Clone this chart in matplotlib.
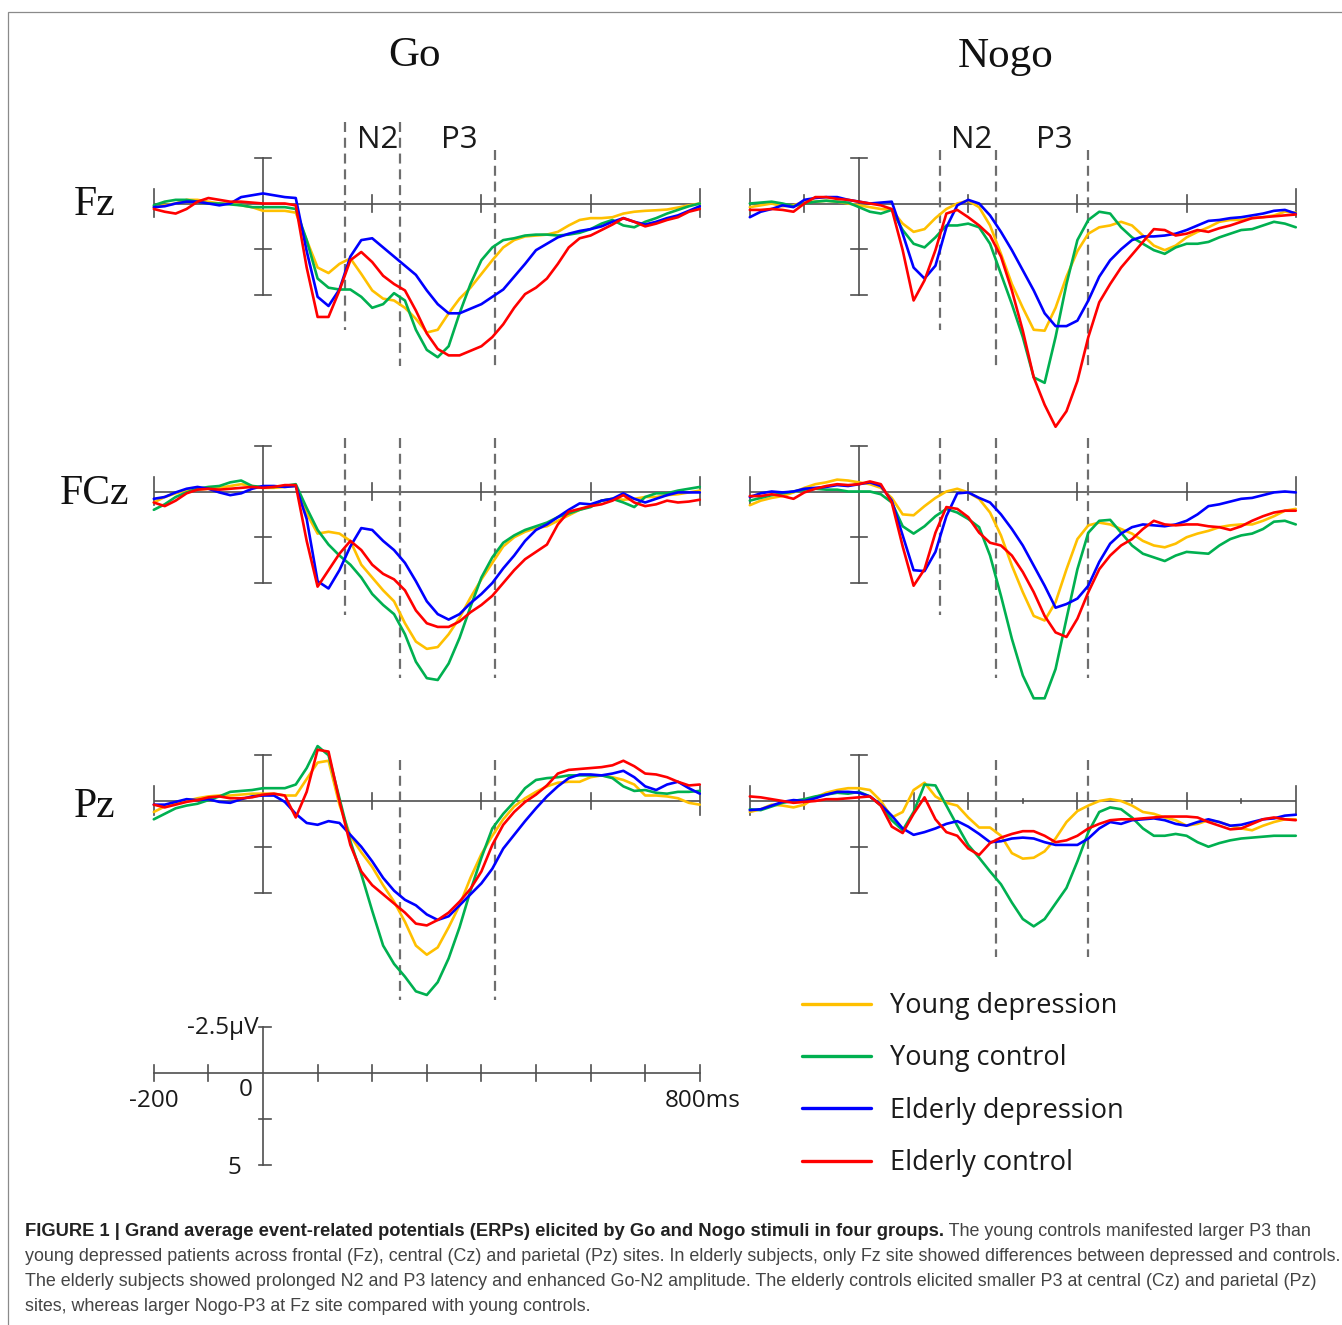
import matplotlib
matplotlib.use("Agg")
import matplotlib.pyplot as plt
from matplotlib.patches import Rectangle

# ---------------- data (µV, negative plotted upward) ----------------
time_ms = [-200, -180, -160, -140, -120, -100, -80, -60, -40, -20, 0,
           20, 40, 60, 80, 100, 120, 140, 160, 180, 200,
           220, 240, 260, 280, 300, 320, 340, 360, 380, 400,
           420, 440, 460, 480, 500, 520, 540, 560, 580, 600,
           620, 640, 660, 680, 700, 720, 740, 760, 780, 800]

groups = ["Young depression", "Young control", "Elderly depression", "Elderly control"]
group_colors = ["#FFC000", "#00B050", "#0000FF", "#FF0000"]

# ---- Go, Fz
go_fz_yd = [0.2, 0.1, 0.0, -0.2, -0.2, -0.1, 0.0, 0.0, 0.1, 0.2, 0.4,
            0.4, 0.4, 0.5, 2.0, 3.5, 3.8, 3.3, 3.0, 3.85, 4.75,
            5.2, 5.3, 5.7, 6.3, 7.05, 6.9, 6.0, 5.2, 4.6, 3.85,
            3.1, 2.4, 2.0, 1.8, 1.75, 1.7, 1.55, 1.2, 0.9, 0.8,
            0.8, 0.75, 0.55, 0.45, 0.4, 0.37, 0.33, 0.22, 0.1, 0.0]
go_fz_yc = [0.1, -0.1, -0.2, -0.2, -0.1, 0.0, 0.0, 0.05, 0.1, 0.2, 0.2,
            0.2, 0.2, 0.3, 2.0, 4.1, 4.6, 4.7, 4.7, 5.1, 5.7,
            5.5, 4.9, 5.3, 6.9, 8.0, 8.4, 7.8, 6.0, 4.4, 3.1,
            2.4, 2.0, 1.9, 1.75, 1.7, 1.7, 1.75, 1.7, 1.6, 1.4,
            1.1, 0.9, 1.2, 1.3, 1.0, 0.8, 0.55, 0.35, 0.15, 0.0]
go_fz_ed = [0.2, 0.15, 0.0, -0.1, -0.1, 0.0, 0.1, 0.0, -0.35, -0.45, -0.55,
            -0.45, -0.35, -0.3, 2.6, 5.1, 5.6, 4.7, 2.9, 2.0, 1.9,
            2.4, 2.9, 3.4, 3.9, 4.75, 5.5, 6.0, 6.0, 5.75, 5.5,
            5.1, 4.7, 4.0, 3.3, 2.55, 2.2, 1.85, 1.65, 1.5, 1.4,
            1.25, 1.0, 0.8, 1.0, 1.15, 1.0, 0.8, 0.65, 0.4, 0.15]
go_fz_ec = [0.3, 0.45, 0.55, 0.3, -0.1, -0.3, -0.2, -0.1, -0.1, -0.05, 0.0,
            0.0, 0.0, 0.1, 3.5, 6.2, 6.2, 4.75, 3.1, 2.65, 3.2,
            3.95, 4.4, 4.75, 5.85, 7.1, 7.95, 8.3, 8.3, 8.05, 7.8,
            7.3, 6.6, 5.7, 4.95, 4.6, 4.1, 3.3, 2.4, 1.9, 1.75,
            1.45, 1.15, 0.8, 1.0, 1.25, 1.1, 0.9, 0.75, 0.45, 0.3]

# ---- Go, FCz
go_fcz_yd = [0.6, 0.3, 0.1, -0.05, -0.1, -0.15, -0.2, -0.3, -0.4, -0.3, -0.2,
             -0.2, -0.25, -0.3, 1.2, 2.3, 2.2, 2.3, 2.7, 4.0, 4.7,
             5.4, 6.0, 7.2, 8.2, 8.6, 8.5, 7.8, 6.9, 5.8, 4.8,
             3.9, 3.0, 2.5, 2.2, 2.0, 1.9, 1.6, 1.3, 1.0, 0.8,
             0.5, 0.4, 0.45, 0.4, 0.3, 0.3, 0.2, 0.15, 0.05, -0.05]
go_fcz_yc = [1.0, 0.7, 0.3, 0.05, -0.15, -0.25, -0.3, -0.5, -0.6, -0.3, -0.25,
             -0.25, -0.3, -0.4, 0.9, 2.1, 2.9, 3.5, 4.0, 4.7, 5.6,
             6.2, 6.7, 7.8, 9.3, 10.2, 10.3, 9.4, 8.0, 6.3, 4.7,
             3.6, 2.8, 2.4, 2.1, 1.9, 1.7, 1.4, 1.2, 1.0, 0.85,
             0.5, 0.4, 0.6, 0.85, 0.3, 0.1, 0.1, -0.05, -0.15, -0.25]
go_fcz_ed = [0.4, 0.3, 0.05, -0.15, -0.25, -0.15, 0.05, 0.2, 0.1, -0.15, -0.3,
             -0.3, -0.25, -0.3, 1.5, 4.9, 5.3, 4.3, 3.0, 2.0, 2.1,
             2.7, 3.2, 3.9, 4.9, 6.0, 6.7, 7.0, 6.7, 6.1, 5.6,
             5.0, 4.2, 3.5, 2.7, 2.1, 1.8, 1.4, 1.0, 0.65, 0.7,
             0.5, 0.4, 0.1, 0.4, 0.6, 0.4, 0.2, 0.05, 0.05, 0.05]
go_fcz_ec = [0.6, 0.8, 0.5, 0.1, -0.1, -0.15, -0.1, -0.15, -0.2, -0.25, -0.2,
             -0.25, -0.35, -0.35, 2.7, 5.2, 4.3, 3.4, 2.7, 3.2, 4.0,
             4.5, 4.8, 5.4, 6.5, 7.2, 7.4, 7.4, 7.1, 6.6, 6.2,
             5.7, 5.0, 4.3, 3.7, 3.3, 2.9, 1.8, 1.1, 0.95, 0.8,
             0.7, 0.5, 0.2, 0.6, 0.8, 0.7, 0.5, 0.6, 0.55, 0.45]

# ---- Go, Pz
go_pz_yd = [0.6, 0.3, 0.1, 0.0, -0.15, -0.25, -0.3, -0.3, -0.35, -0.4, -0.4,
            -0.4, -0.3, -0.3, -1.2, -2.1, -2.2, 0.2, 1.9, 2.8, 3.6,
            4.6, 5.5, 6.6, 7.9, 8.4, 8.0, 6.9, 5.7, 4.2, 2.9,
            1.9, 1.0, 0.3, -0.15, -0.5, -0.8, -1.0, -1.05, -1.05, -1.3,
            -1.4, -1.3, -1.15, -0.9, -0.3, -0.3, -0.25, -0.15, 0.1, 0.2]
go_pz_yc = [1.0, 0.7, 0.4, 0.25, 0.15, -0.05, -0.25, -0.5, -0.55, -0.6, -0.7,
            -0.7, -0.7, -0.9, -1.8, -3.0, -2.5, -0.15, 2.2, 4.0, 6.0,
            7.9, 8.9, 9.6, 10.4, 10.6, 9.9, 8.6, 6.9, 4.9, 3.1,
            1.5, 0.7, 0.05, -0.7, -1.15, -1.25, -1.3, -1.4, -1.4, -1.4,
            -1.4, -1.25, -0.8, -0.55, -0.6, -0.45, -0.4, -0.5, -0.5, -0.55]
go_pz_ed = [0.2, 0.2, 0.05, -0.1, -0.05, -0.1, 0.05, 0.1, -0.1, -0.25, -0.3,
            -0.3, 0.05, 0.7, 1.2, 1.3, 1.1, 1.2, 1.85, 2.5, 3.3,
            4.2, 4.9, 5.4, 5.7, 6.2, 6.5, 6.3, 5.7, 5.1, 4.5,
            3.7, 2.6, 1.85, 1.1, 0.4, -0.25, -0.8, -1.25, -1.45, -1.45,
            -1.4, -1.5, -1.65, -1.3, -0.8, -0.6, -0.9, -1.05, -0.7, -0.4]
go_pz_ec = [0.2, 0.35, 0.2, 0.05, -0.05, -0.2, -0.25, -0.15, -0.15, -0.2, -0.35,
            -0.4, -0.3, 0.9, -0.5, -2.8, -2.7, 0.0, 2.4, 3.85, 4.6,
            5.1, 5.6, 6.1, 6.7, 6.8, 6.5, 6.1, 5.5, 4.8, 3.85,
            2.4, 1.3, 0.6, 0.05, -0.35, -0.85, -1.5, -1.7, -1.75, -1.8,
            -1.85, -1.95, -2.2, -1.9, -1.5, -1.45, -1.3, -1.05, -0.85, -0.9]

# ---- Nogo, Fz
nogo_fz_yd = [0.2, 0.1, 0.0, 0.15, 0.1, -0.1, -0.1, -0.15, -0.1, 0.0, 0.1,
              0.2, 0.3, 0.35, 1.1, 1.55, 1.4, 0.8, 0.3, 0.0, -0.15,
              0.2, 1.2, 2.75, 4.4, 5.7, 6.9, 6.95, 5.7, 4.0, 2.6,
              1.65, 1.3, 1.2, 1.0, 1.2, 1.75, 2.3, 2.55, 2.3, 1.85,
              1.55, 1.3, 1.0, 0.9, 0.9, 0.8, 0.75, 0.65, 0.45, 0.5]
nogo_fz_yc = [0.0, -0.05, -0.1, 0.0, 0.15, 0.0, -0.1, -0.15, -0.1, -0.05, 0.2,
              0.45, 0.55, 0.35, 1.45, 2.2, 2.4, 1.85, 1.2, 1.2, 1.1,
              1.3, 2.2, 3.85, 5.5, 7.3, 9.5, 9.8, 7.3, 4.4, 2.0,
              0.9, 0.45, 0.55, 1.3, 1.85, 2.2, 2.55, 2.75, 2.4, 2.2,
              2.2, 2.1, 1.85, 1.65, 1.45, 1.4, 1.2, 1.0, 1.1, 1.3]
nogo_fz_ed = [0.75, 0.45, 0.3, 0.1, 0.2, -0.2, -0.3, -0.35, -0.35, -0.2, -0.1,
              0.0, -0.05, -0.1, 1.65, 3.5, 4.1, 3.4, 1.3, 0.1, -0.2,
              0.0, 0.65, 1.55, 2.55, 3.65, 4.75, 6.0, 6.7, 6.7, 6.4,
              5.3, 4.0, 3.1, 2.5, 2.0, 1.8, 1.8, 1.75, 1.65, 1.45,
              1.2, 0.95, 0.9, 0.8, 0.75, 0.65, 0.55, 0.4, 0.35, 0.55]
nogo_fz_ec = [0.35, 0.35, 0.3, 0.35, 0.45, 0.0, -0.35, -0.35, -0.25, -0.2, -0.1,
              0.0, 0.1, 0.3, 2.55, 5.3, 4.2, 2.55, 0.55, 0.35, 0.75,
              1.2, 1.75, 2.9, 4.75, 6.95, 9.5, 11.0, 12.2, 11.35, 9.7,
              7.3, 5.4, 4.4, 3.5, 2.8, 2.1, 1.4, 1.45, 1.75, 1.65,
              1.45, 1.55, 1.35, 1.2, 1.0, 0.8, 0.75, 0.7, 0.65, 0.6]

# ---- Nogo, FCz
nogo_fcz_yd = [0.75, 0.5, 0.35, 0.25, 0.05, -0.2, -0.4, -0.5, -0.65, -0.6, -0.5,
               -0.4, -0.2, 0.35, 1.25, 1.3, 0.8, 0.35, 0.0, -0.15, 0.05,
               0.4, 1.15, 2.4, 4.05, 5.5, 6.8, 7.05, 6.05, 4.25, 2.6,
               1.85, 1.7, 1.8, 2.05, 2.3, 2.7, 2.95, 3.05, 2.85, 2.5,
               2.3, 2.15, 1.95, 1.85, 1.8, 1.8, 1.6, 1.35, 1.05, 0.95]
nogo_fcz_yc = [0.5, 0.35, 0.2, 0.1, 0.0, -0.1, -0.15, -0.1, -0.1, 0.0, 0.0,
               0.0, 0.15, 0.6, 1.9, 2.3, 1.9, 1.35, 0.95, 1.15, 1.5,
               1.95, 3.5, 5.7, 8.05, 10.05, 11.3, 11.3, 9.7, 6.95, 4.25,
               2.25, 1.6, 1.55, 2.25, 2.95, 3.4, 3.6, 3.8, 3.5, 3.3,
               3.35, 3.4, 2.95, 2.6, 2.4, 2.3, 2.05, 1.65, 1.6, 1.8]
nogo_fcz_ed = [0.3, 0.1, 0.0, 0.05, 0.0, -0.15, -0.2, -0.25, -0.35, -0.3, -0.4,
               -0.5, -0.3, 0.5, 2.4, 4.3, 4.35, 3.3, 1.35, 0.1, 0.05,
               0.35, 0.6, 1.25, 2.05, 2.95, 4.05, 5.15, 6.35, 6.15, 5.85,
               5.15, 3.85, 2.85, 2.3, 1.95, 1.8, 1.85, 1.9, 1.8, 1.6,
               1.25, 0.8, 0.7, 0.55, 0.4, 0.35, 0.2, 0.05, 0.0, 0.05]
nogo_fcz_ec = [0.25, 0.25, 0.15, 0.25, 0.4, 0.05, -0.15, -0.3, -0.4, -0.35, -0.4,
               -0.55, -0.4, 0.6, 3.0, 5.15, 4.25, 2.25, 0.85, 0.95, 1.4,
               2.25, 2.8, 2.95, 3.5, 4.4, 5.5, 6.8, 7.7, 7.95, 6.95,
               5.5, 4.25, 3.5, 2.95, 2.6, 2.05, 1.6, 1.8, 1.85, 1.8,
               1.8, 1.9, 1.95, 2.1, 1.9, 1.6, 1.35, 1.15, 1.05, 1.05]

# ---- Nogo, Pz
nogo_pz_yd = [0.6, 0.45, 0.2, 0.25, 0.35, 0.2, -0.2, -0.45, -0.6, -0.7, -0.7,
              -0.6, 0.0, 0.9, 0.6, -0.6, -1.0, -0.25, 0.1, 0.25, 0.9,
              1.45, 1.45, 1.9, 2.85, 3.15, 3.1, 2.75, 2.05, 1.15, 0.55,
              0.25, 0.0, -0.1, 0.0, 0.25, 0.6, 0.7, 0.9, 1.05, 1.35,
              1.25, 1.05, 1.15, 1.35, 1.5, 1.6, 1.35, 1.15, 1.0, 1.0]
nogo_pz_yc = [0.45, 0.5, 0.3, 0.1, 0.0, -0.1, -0.25, -0.35, -0.45, -0.4, -0.5,
              -0.25, 0.25, 1.05, 1.6, 0.6, -0.9, -0.85, 0.25, 1.35, 2.4,
              3.1, 3.85, 4.55, 5.55, 6.45, 6.85, 6.45, 5.6, 4.75, 3.3,
              1.7, 0.6, 0.35, 0.45, 0.9, 1.5, 1.9, 1.9, 1.8, 1.9,
              2.25, 2.5, 2.3, 2.15, 2.05, 2.0, 1.95, 1.9, 1.9, 1.9]
nogo_pz_ed = [0.5, 0.45, 0.25, 0.05, -0.05, 0.0, -0.15, -0.35, -0.5, -0.5, -0.45,
              -0.25, 0.2, 0.8, 1.5, 1.85, 1.7, 1.5, 1.25, 1.1, 1.4,
              1.8, 2.25, 2.2, 2.05, 2.0, 2.05, 2.25, 2.4, 2.4, 2.4,
              2.05, 1.5, 1.15, 1.25, 1.05, 1.0, 0.95, 1.05, 1.25, 1.35,
              1.15, 1.0, 1.15, 1.35, 1.3, 1.15, 1.0, 0.95, 0.8, 0.75]
nogo_pz_ec = [-0.25, -0.2, -0.1, 0.0, 0.1, 0.05, 0.0, -0.1, -0.1, -0.15, -0.2,
              -0.25, 0.25, 1.4, 1.75, 0.7, -0.2, 1.0, 1.7, 1.9, 2.6,
              2.95, 2.3, 2.0, 1.8, 1.65, 1.65, 1.9, 2.25, 2.15, 1.9,
              1.5, 1.25, 1.05, 1.0, 1.0, 0.95, 0.9, 0.85, 0.85, 0.85,
              0.9, 1.15, 1.35, 1.55, 1.5, 1.25, 1.0, 0.9, 1.0, 1.05]

electrodes = ["Fz", "FCz", "Pz"]
conditions = ["Go", "Nogo"]
component_labels = ["N2", "P3"]
go_window_ms = [150, 250, 425]
nogo_window_ms = [148, 250, 420]

caption_bold = ("FIGURE 1 | Grand average event-related potentials (ERPs) elicited by "
                "Go and Nogo stimuli in four groups.")
caption_lines = [
    " The young controls manifested larger P3 than",
    "young depressed patients across frontal (Fz), central (Cz) and parietal (Pz) sites. "
    "In elderly subjects, only Fz site showed differences between depressed and controls.",
    "The elderly subjects showed prolonged N2 and P3 latency and enhanced Go-N2 amplitude. "
    "The elderly controls elicited smaller P3 at central (Cz) and parietal (Pz)",
    "sites, whereas larger Nogo-P3 at Fz site compared with young controls.",
]

# ---------------- layout ----------------
W, H = 1342, 1325
fig = plt.figure(figsize=(W / 100, H / 100), dpi=100)
fig.patch.set_facecolor("white")

PX_PER_MS = 0.546
PX_PER_UV = 18.3
XL = (-240, 840)
YL = (14.0, -5.5)          # inverted: negative up
AX_C = "#4f4f4f"
DASH_C = "#6e6e6e"


def fx(x):
    return x / W


def fy(y):
    return 1 - y / H


def make_ax(x0, y0):
    left = x0 + XL[0] * PX_PER_MS
    width = (XL[1] - XL[0]) * PX_PER_MS
    top = y0 + YL[1] * PX_PER_UV
    height = (YL[0] - YL[1]) * PX_PER_UV
    ax = fig.add_axes([left / W, 1 - (top + height) / H, width / W, height / H])
    ax.set_xlim(XL)
    ax.set_ylim(YL)
    ax.set_axis_off()
    return ax


def draw_axes(ax, ticks, dots=()):
    ax.plot([-200, 800], [0, 0], color=AX_C, lw=1.2, solid_capstyle="butt")
    ax.plot([0, 0], [-2.5, 5], color=AX_C, lw=1.2)
    for v in (-2.5, 2.5, 5):
        ax.plot([-15, 15], [v, v], color=AX_C, lw=1.2)
    for tt in (-200, 800):
        ax.plot([tt, tt], [-0.8, 0.75], color=AX_C, lw=1.2)
    for tt in ticks:
        ax.plot([tt, tt], [-0.45, 0.45], color=AX_C, lw=1.2)
    for tt in dots:
        ax.plot([tt, tt], [-0.12, 0.12], color=AX_C, lw=1.2)


def draw_windows(ax, times, extents):
    for tt, (a, b) in zip(times, extents):
        ax.plot([tt, tt], [a, b], color=DASH_C, lw=1.6, dashes=(4.5, 2.6))


panel_data = {
    ("Go", "Fz"): [go_fz_yd, go_fz_yc, go_fz_ed, go_fz_ec],
    ("Go", "FCz"): [go_fcz_yd, go_fcz_yc, go_fcz_ed, go_fcz_ec],
    ("Go", "Pz"): [go_pz_yd, go_pz_yc, go_pz_ed, go_pz_ec],
    ("Nogo", "Fz"): [nogo_fz_yd, nogo_fz_yc, nogo_fz_ed, nogo_fz_ec],
    ("Nogo", "FCz"): [nogo_fcz_yd, nogo_fcz_yc, nogo_fcz_ed, nogo_fcz_ec],
    ("Nogo", "Pz"): [nogo_pz_yd, nogo_pz_yc, nogo_pz_ed, nogo_pz_ec],
}
col_x0 = {"Go": 263, "Nogo": 859}
row_y0 = {"Fz": 203.5, "FCz": 491.5, "Pz": 801.0}
panel_ticks = {
    ("Go", "Fz"): ([200, 400, 600], ()),
    ("Go", "FCz"): ([200, 400, 600], ()),
    ("Go", "Pz"): ([200, 400, 600], ()),
    ("Nogo", "Fz"): ([-100, 200, 400, 600], ()),
    ("Nogo", "FCz"): ([200, 400, 600], ()),
    ("Nogo", "Pz"): ([-100, 100, 200, 400, 600], (300, 500, 700)),
}
window_ext = {
    ("Go", "Fz"): [(-4.45, 6.9), (-4.45, 8.9), (-2.9, 8.9)],
    ("Go", "FCz"): [(-2.9, 6.75), (-2.9, 10.2), (-2.9, 10.2)],
    ("Go", "Pz"): [None, (-2.25, 10.9), (-2.25, 10.9)],
    ("Nogo", "Fz"): [(-2.9, 6.9), (-2.9, 8.9), (-2.9, 8.9)],
    ("Nogo", "FCz"): [(-2.9, 6.75), (-2.9, 10.2), (-2.9, 10.2)],
    ("Nogo", "Pz"): [None, (-2.25, 8.55), (-2.25, 8.55)],
}

handles = None
for cond in conditions:
    for el in electrodes:
        ax = make_ax(col_x0[cond], row_y0[el])
        ticks, dots = panel_ticks[(cond, el)]
        draw_axes(ax, ticks, dots)
        wins = go_window_ms if cond == "Go" else nogo_window_ms
        ext = window_ext[(cond, el)]
        tt = [w for w, e in zip(wins, ext) if e is not None]
        ee = [e for e in ext if e is not None]
        draw_windows(ax, tt, ee)
        lines = []
        for series, name, col in zip(panel_data[(cond, el)], groups, group_colors):
            ln, = ax.plot(time_ms, series, color=col, lw=1.9, label=name,
                          solid_joinstyle="round", solid_capstyle="round")
            lines.append(ln)
        if handles is None:
            handles = lines

# ---------------- scale bar ----------------
sb = make_ax(263, 1073)
sb.plot([-200, 800], [0, 0], color=AX_C, lw=1.2)
sb.plot([0, 0], [-2.5, 5], color=AX_C, lw=1.2)
for tt in [-200, -100, 100, 200, 300, 400, 500, 600, 700, 800]:
    sb.plot([tt, tt], [-0.45, 0.45], color=AX_C, lw=1.2)
for v in (-2.5, 2.5, 5):
    sb.plot([-8, 15], [v, v], color=AX_C, lw=1.2)
sb_font = dict(family="Open Sans", fontsize=17.5, color="#1a1a1a")
sb.text(-8, -2.45, "-2.5µV", ha="right", va="center", **sb_font)
sb.text(-200, 1.55, "-200", ha="center", va="center", **sb_font)
sb.text(-32, 0.95, "0", ha="center", va="center", **sb_font)
sb.text(805, 1.55, "800ms", ha="center", va="center", **sb_font)
sb.text(-52, 5.2, "5", ha="center", va="center", **sb_font)

# ---------------- titles & labels ----------------
serif = "Liberation Serif"
fig.text(fx(414), fy(66), "Go", family=serif, fontsize=31, ha="center", va="baseline", color="#111111")
fig.text(fx(1006), fy(67), "Nogo", family=serif, fontsize=31, ha="center", va="baseline", color="#111111")
for el, yb in zip(electrodes, [215, 504, 817]):
    fig.text(fx(95), fy(yb), el, family=serif, fontsize=30, ha="center", va="baseline", color="#111111")
for cx, lab in zip([378, 459, 972, 1054], component_labels * 2):
    fig.text(fx(cx), fy(148), lab, family="Open Sans", fontsize=22.5, ha="center",
             va="baseline", color="#1a1a1a")

# ---------------- legend ----------------
leg = fig.legend(handles=handles, labels=groups, loc="upper left",
                 bbox_to_anchor=(fx(802), fy(992)), frameon=False,
                 prop=dict(family="Open Sans", size=19.5), handlelength=2.55,
                 handletextpad=0.7, labelspacing=0.90, borderpad=0, borderaxespad=0)
for lh in leg.get_lines():
    lh.set_linewidth(2.4)
for txt in leg.get_texts():
    txt.set_color("#1a1a1a")

# ---------------- frame ----------------
fig.add_artist(Rectangle((fx(8), -0.02), 1.05, fy(12) + 0.02, transform=fig.transFigure,
                         fill=False, edgecolor="#8a8a8a", lw=0.9))

# ---------------- caption ----------------
renderer = fig.canvas.get_renderer()
cap_family = "Liberation Sans"
probe = fig.text(0, 0, caption_lines[1], family=cap_family, fontsize=12)
w_probe = probe.get_window_extent(renderer).width
probe.remove()
cap_fs = 12 * 1312 / w_probe
probe_b = fig.text(0, 0, caption_bold, family=cap_family, fontsize=cap_fs, fontweight="bold")
wb = probe_b.get_window_extent(renderer).width
probe_b.remove()
bold_fs = cap_fs * min(1.05, 926 / wb)
line_y = [1236, 1261, 1286, 1311]
b = fig.text(fx(25), fy(line_y[0]), caption_bold, family=cap_family, fontsize=bold_fs,
             fontweight="bold", color="#222222", ha="left", va="baseline")
bx = b.get_window_extent(renderer).x1
fig.text(bx / W, fy(line_y[0]), caption_lines[0], family=cap_family, fontsize=cap_fs,
         color="#444444", ha="left", va="baseline")
for txt, yb in zip(caption_lines[1:], line_y[1:]):
    fig.text(fx(25), fy(yb), txt, family=cap_family, fontsize=cap_fs, color="#444444",
             ha="left", va="baseline")

fig.savefig("out.png", dpi=100)
